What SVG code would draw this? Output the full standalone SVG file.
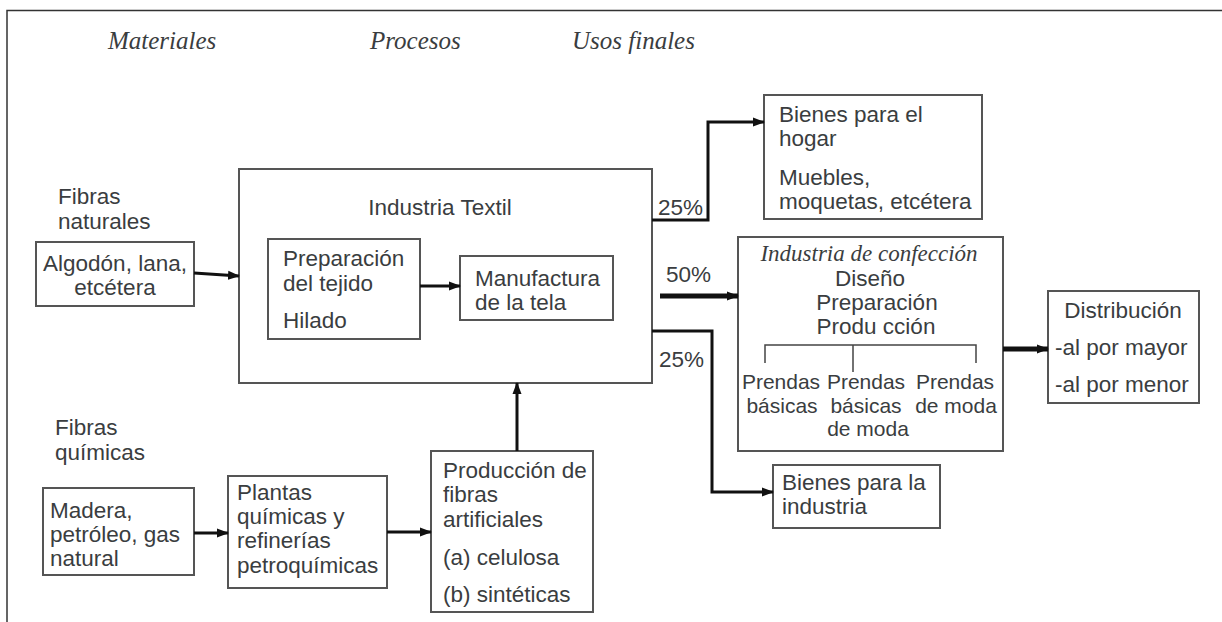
<svg xmlns="http://www.w3.org/2000/svg" width="1222" height="622" viewBox="0 0 1222 622">
<defs>
<style>
.box{fill:#fff;stroke:#555;stroke-width:2}
.t{font-family:"Liberation Sans",Arial,sans-serif;font-size:22.5px;fill:#3a3d40}
.s{font-size:21px}
.h{font-family:"Liberation Serif","Times New Roman",serif;font-style:italic;font-size:25px;fill:#3a3d40}
.c{text-anchor:middle}
.ln{fill:none;stroke:#111;stroke-width:3}
.thick{stroke-width:5}
.br{fill:none;stroke:#444;stroke-width:1.5}
</style>
<marker id="ah" markerUnits="userSpaceOnUse" markerWidth="12" markerHeight="12" viewBox="0 0 12 12" refX="11" refY="6" orient="auto">
<path d="M0,1.5 L12,6 L0,10.5 Z" fill="#111"/>
</marker>
</defs>
<rect width="1222" height="622" fill="#fff"/>
<path d="M1222,10.5 H7 V622" fill="none" stroke="#333" stroke-width="1.5"/>

<g id="headers">
<text class="h" x="108" y="49">Materiales</text>
<text class="h" x="370" y="49">Procesos</text>
<text class="h" x="572" y="49">Usos finales</text>
</g>

<g id="fibras-naturales">
<text class="t" x="58" y="204">Fibras</text>
<text class="t" x="58" y="229">naturales</text>
</g>

<g id="algodon">
<rect class="box" x="36" y="242" width="158" height="64"/>
<text class="t c" x="115" y="271">Algodón, lana,</text>
<text class="t c" x="115" y="295">etcétera</text>
</g>

<g id="industria-textil">
<rect class="box" x="239" y="169" width="413" height="214"/>
<text class="t c" x="440" y="215">Industria Textil</text>
</g>

<g id="preparacion">
<rect class="box" x="268" y="239" width="152" height="100"/>
<text class="t" x="283" y="266">Preparación</text>
<text class="t" x="283" y="291">del tejido</text>
<text class="t" x="283" y="328">Hilado</text>
</g>

<g id="manufactura">
<rect class="box" x="460" y="256" width="153" height="64"/>
<text class="t" x="475" y="286">Manufactura</text>
<text class="t" x="475" y="310">de la tela</text>
</g>

<g id="bienes-hogar">
<rect class="box" x="764" y="95" width="218" height="124"/>
<text class="t" x="779" y="122">Bienes para el</text>
<text class="t" x="779" y="146">hogar</text>
<text class="t" x="779" y="185">Muebles,</text>
<text class="t" x="779" y="209">moquetas, etcétera</text>
</g>

<g id="confeccion">
<rect class="box" x="738" y="237" width="265" height="214"/>
<text class="h c" style="font-size:23px" x="869" y="261">Industria de confección</text>
<text class="t c" x="870" y="286">Diseño</text>
<text class="t c" x="877" y="310">Preparación</text>
<text class="t c" x="876" y="334">Produ cción</text>
<path class="br" d="M765,363 V345 H976 V363 M853,345 V372"/>
<text class="t s c" x="781" y="389">Prendas</text>
<text class="t s c" x="782" y="413">básicas</text>
<text class="t s c" x="866" y="389">Prendas</text>
<text class="t s c" x="866" y="413">básicas</text>
<text class="t s c" x="868" y="436">de moda</text>
<text class="t s c" x="955" y="389">Prendas</text>
<text class="t s c" x="956" y="413">de moda</text>
</g>

<g id="distribucion">
<rect class="box" x="1048" y="291" width="151" height="112"/>
<text class="t c" x="1123" y="318">Distribución</text>
<text class="t" x="1055" y="355">-al por mayor</text>
<text class="t" x="1055" y="392">-al por menor</text>
</g>

<g id="bienes-industria">
<rect class="box" x="773" y="465" width="167" height="63"/>
<text class="t" x="782" y="490">Bienes para la</text>
<text class="t" x="782" y="514">industria</text>
</g>

<g id="fibras-quimicas">
<text class="t" x="55" y="435">Fibras</text>
<text class="t" x="55" y="460">químicas</text>
</g>

<g id="madera">
<rect class="box" x="43" y="488" width="151" height="87"/>
<text class="t" x="50" y="518">Madera,</text>
<text class="t" x="50" y="542">petróleo, gas</text>
<text class="t" x="50" y="566">natural</text>
</g>

<g id="plantas">
<rect class="box" x="228" y="476" width="159" height="112"/>
<text class="t" x="237" y="500">Plantas</text>
<text class="t" x="237" y="524">químicas y</text>
<text class="t" x="237" y="548">refinerías</text>
<text class="t" x="237" y="573">petroquímicas</text>
</g>

<g id="produccion">
<rect class="box" x="431" y="451" width="162" height="161"/>
<text class="t" x="443" y="478">Producción de</text>
<text class="t" x="443" y="502">fibras</text>
<text class="t" x="443" y="527">artificiales</text>
<text class="t" x="443" y="565">(a) celulosa</text>
<text class="t" x="443" y="602">(b) sintéticas</text>
</g>

<g id="connectors">
<path class="ln" d="M194,273 L239,276" marker-end="url(#ah)"/>
<path class="ln" d="M420,286 H460" marker-end="url(#ah)"/>
<path class="ln" d="M517,451 V383" marker-end="url(#ah)"/>
<path class="ln" d="M194,533 H228" marker-end="url(#ah)"/>
<path class="ln" d="M387,532 H431" marker-end="url(#ah)"/>
<path class="ln" d="M652,220 H708 V122 H764" marker-end="url(#ah)"/>
<path class="ln thick" d="M660,296 H738" marker-end="url(#ah)"/>
<path class="ln" d="M652,331 H712 V492 H773" marker-end="url(#ah)"/>
<path class="ln thick" d="M1003,349 H1048" marker-end="url(#ah)"/>
<text class="t" x="658" y="215">25%</text>
<text class="t" x="666" y="282">50%</text>
<text class="t" x="659" y="367">25%</text>
</g>
</svg>
